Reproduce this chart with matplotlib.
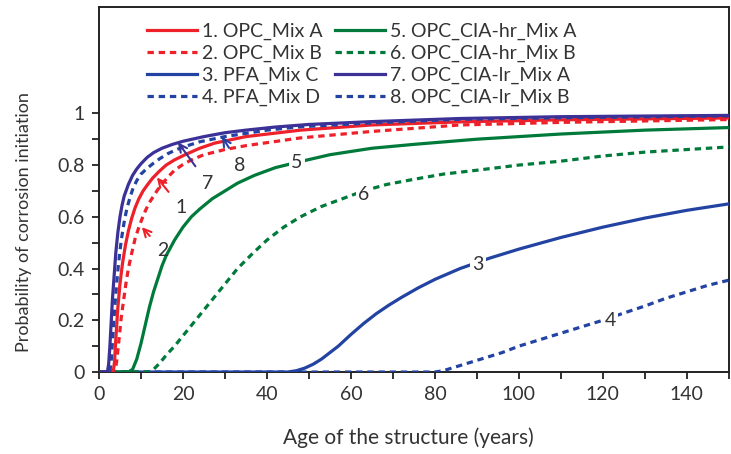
import numpy as np
import matplotlib
import matplotlib.pyplot as plt

matplotlib.use('Agg')
plt.rcParams['font.family'] = ['Lato', 'DejaVu Sans']

# values (age in years, probability)
x1 = [0, 3.4, 3.7, 4.1, 4.5, 5, 5.6, 6.3, 7, 7.8, 8.6, 9.5, 10.5, 11.6, 12.8, 14.3, 16, 18, 20.5, 24,
      27.6, 35, 48, 65, 86, 110, 150]
y1 = [0, 0, 0.04, 0.15, 0.25, 0.34, 0.42, 0.49, 0.545, 0.595, 0.635, 0.67, 0.70, 0.725, 0.75, 0.775,
      0.80, 0.82, 0.84, 0.865, 0.885, 0.91, 0.935, 0.955, 0.967, 0.975, 0.982]

x2 = [0, 3.8, 4.2, 4.8, 5.3, 5.8, 6.4, 7, 7.8, 8.6, 9.4, 10.2, 11.1, 12, 13, 14, 15.2, 16.5, 18, 19.8,
      22, 25, 30, 35, 48, 65, 86, 110, 150]
y2 = [0, 0, 0.04, 0.13, 0.21, 0.27, 0.34, 0.40, 0.46, 0.515, 0.555, 0.59, 0.625, 0.655, 0.68, 0.705,
      0.73, 0.755, 0.78, 0.80, 0.82, 0.84, 0.86, 0.875, 0.905, 0.93, 0.955, 0.965, 0.976]

x3 = [0, 45, 47, 49, 51, 53, 55, 57, 60, 63, 66, 69, 72, 76, 80, 86, 93, 100, 110, 120, 130, 140, 150]
y3 = [0, 0, 0.005, 0.015, 0.03, 0.05, 0.075, 0.10, 0.145, 0.187, 0.225, 0.258, 0.288, 0.325, 0.358,
      0.40, 0.44, 0.475, 0.52, 0.56, 0.595, 0.625, 0.65]

x4 = [0, 80, 82, 85, 88, 92, 96, 100, 105, 110, 115, 120, 125, 130, 135, 140, 145, 150]
y4 = [0, 0, 0.005, 0.02, 0.035, 0.055, 0.075, 0.10, 0.125, 0.15, 0.175, 0.20, 0.228, 0.255, 0.285,
      0.31, 0.335, 0.355]

x5 = [0, 7, 8, 9, 10, 11, 12, 13, 14, 15, 16, 18, 20, 22, 24, 27, 30, 33, 37, 42, 47, 55, 65, 75, 90,
      110, 130, 150]
y5 = [0, 0, 0.01, 0.05, 0.11, 0.18, 0.25, 0.31, 0.36, 0.41, 0.45, 0.51, 0.56, 0.60, 0.63, 0.67, 0.70,
      0.73, 0.76, 0.79, 0.81, 0.84, 0.865, 0.88, 0.90, 0.92, 0.935, 0.945]

x6 = [0, 11.7, 13, 14.5, 16, 18, 20, 22, 24, 26, 28, 30.5, 33, 36.7, 40, 44, 48, 53, 58, 63, 68.5, 75,
      82, 90, 100, 110, 120, 130, 140, 150]
y6 = [0, 0, 0.01, 0.035, 0.065, 0.10, 0.14, 0.18, 0.22, 0.26, 0.30, 0.35, 0.40, 0.46, 0.51, 0.56, 0.60,
      0.64, 0.67, 0.70, 0.725, 0.745, 0.765, 0.78, 0.80, 0.815, 0.835, 0.85, 0.86, 0.87]

x7 = [0, 2.0, 2.3, 2.6, 2.9, 3.2, 3.6, 4.0, 4.5, 5, 5.5, 6, 7, 8, 9, 10, 11.5, 13, 15, 17.5, 20, 25, 30,
      35, 42, 50, 65, 86, 110, 150]
y7 = [0, 0, 0.03, 0.10, 0.19, 0.28, 0.37, 0.46, 0.54, 0.60, 0.645, 0.68, 0.725, 0.76, 0.785, 0.805,
      0.83, 0.848, 0.865, 0.88, 0.892, 0.91, 0.925, 0.935, 0.947, 0.957, 0.968, 0.98, 0.987, 0.992]

x8 = [0, 2.6, 2.9, 3.3, 3.8, 4.2, 4.6, 5.0, 5.5, 6.1, 6.7, 7.4, 8.1, 9, 10, 11.3, 12.8, 14.5, 16.5,
      18.5, 20.5, 24, 30, 40, 48, 65, 86, 110, 150]
y8 = [0, 0, 0.04, 0.14, 0.26, 0.34, 0.41, 0.47, 0.53, 0.59, 0.635, 0.675, 0.71, 0.74, 0.765, 0.785,
      0.805, 0.825, 0.845, 0.86, 0.872, 0.89, 0.91, 0.935, 0.948, 0.963, 0.977, 0.983, 0.99]

names = ["1. OPC_Mix A", "2. OPC_Mix B", "3. PFA_Mix C", "4. PFA_Mix D",
         "5. OPC_CIA-hr_Mix A", "6. OPC_CIA-hr_Mix B", "7. OPC_CIA-lr_Mix A", "8. OPC_CIA-lr_Mix B"]

red = '#ee2029'
green = '#007a3a'
blue = '#2343a3'
purple = '#3b3196'
txt = '#333333'

fig = plt.figure(figsize=(7.31, 4.54), dpi=100)
ax = fig.add_axes([0.1354, 0.1806, 0.8616, 0.8034])

lw = 2.3
dots = (2.0, 1.5)
ax.plot(x1, y1, color=red, lw=lw, label=names[0], zorder=4)
ax.plot(x2, y2, color=red, lw=lw, dashes=dots, label=names[1], zorder=3)
ax.plot(x3, y3, color=blue, lw=lw, label=names[2], zorder=3)
ax.plot(x4, y4, color=blue, lw=lw, dashes=dots, label=names[3], zorder=3)
ax.plot(x5, y5, color=green, lw=lw, label=names[4], zorder=3)
ax.plot(x6, y6, color=green, lw=lw, dashes=dots, label=names[5], zorder=3)
ax.plot(x7, y7, color=purple, lw=lw, label=names[6], zorder=6)
ax.plot(x8, y8, color=blue, lw=lw, dashes=dots, label=names[7], zorder=5)

ax.set_xlim(0, 150)
ax.set_ylim(0, 1.41)
ax.set_xticks(np.arange(0, 141, 20))
ax.set_xticks(np.arange(0, 151, 10), minor=True)
ax.set_yticks([0, 0.2, 0.4, 0.6, 0.8, 1.0])
ax.set_yticklabels(['0', '0.2', '0.4', '0.6', '0.8', '1'])
ax.set_yticks(np.arange(0, 1.01, 0.1), minor=True)
ax.tick_params(which='both', direction='out', length=5, width=1.3, color='#222222',
               labelsize=14, labelcolor=txt, pad=5)
for s in ax.spines.values():
    s.set_linewidth(1.4)
    s.set_color('#222222')

ax.set_xlabel('Age of the structure (years)', fontsize=15, color=txt)
ax.xaxis.set_label_coords(0.492, -0.152)
ax.set_ylabel('Probability of corrosion initiation', fontsize=13, color=txt)
ax.yaxis.set_label_coords(-0.107, 0.411)

# inline labels that break the line
box = dict(facecolor='white', edgecolor='none', pad=1.5)
for s, (lx, ly) in zip(['3', '4', '5', '6'], [(90.2, 0.415), (121.7, 0.20), (47.1, 0.81), (63.1, 0.686)]):
    ax.text(lx, ly, s, fontsize=14, color=txt, ha='center', va='center', bbox=box, zorder=7)

# arrow labels
arrows = [('1', (13.8, 0.752), (19.6, 0.635), red),
          ('2', (10.2, 0.56), (15.2, 0.47), red),
          ('7', (18.8, 0.888), (25.9, 0.73), purple),
          ('8', (29.3, 0.91), (33.5, 0.80), blue)]
for s, tip, pos, c in arrows:
    ax.annotate(s, xy=tip, xytext=pos, fontsize=14, color=txt, ha='center', va='center',
                arrowprops=dict(arrowstyle='->', color=c, lw=1.5, shrinkA=5, shrinkB=0,
                                mutation_scale=14), zorder=7)

ax.legend(loc='upper left', bbox_to_anchor=(0.076, 0.958), ncol=2, frameon=False,
          fontsize=14, handlelength=2.6, handletextpad=0.25, columnspacing=0.6,
          labelspacing=0.25, borderaxespad=0, borderpad=0, labelcolor=txt)

fig.savefig('out.png', dpi=100)
